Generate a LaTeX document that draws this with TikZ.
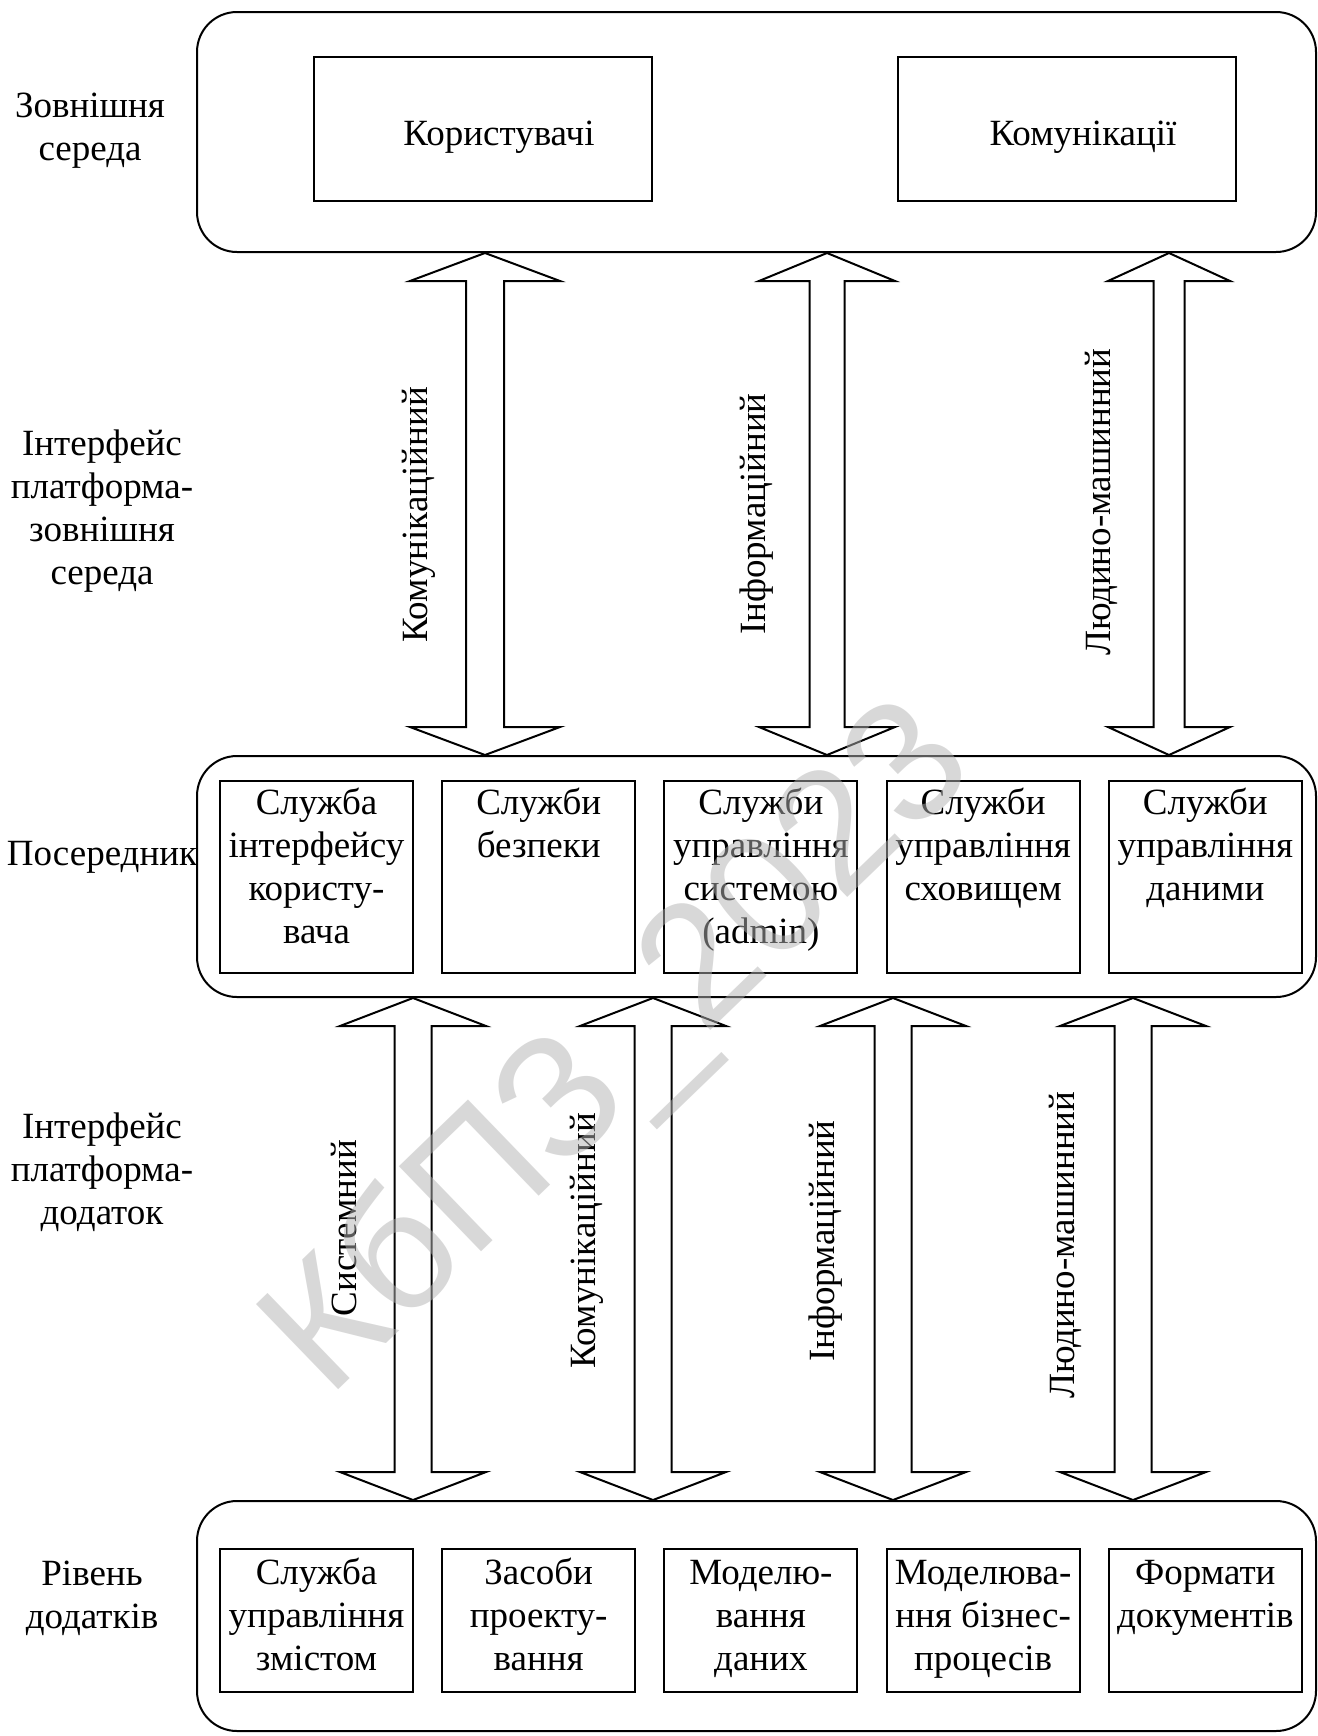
\documentclass[tikz,border=0pt]{standalone}
\usepackage{fontspec}
\setmainfont{Liberation Serif}
\newfontfamily\wmfont{Liberation Sans}
\usetikzlibrary{calc}
\tikzset{
  container/.style={draw, line width=1pt, rounded corners=20pt, inner sep=0pt, minimum width=559.5pt},
  cell/.style={draw, line width=1pt, inner sep=0pt, minimum width=96.5pt},
  topcell/.style={draw, line width=1pt, inner sep=0pt, minimum width=169pt, minimum height=72pt},
  txt/.style={font=\fontsize{18.5pt}{21.5pt}\selectfont, align=center, inner sep=0pt, anchor=base},
  vlabel/.style={font=\fontsize{18.5pt}{21.5pt}\selectfont, rotate=90, inner sep=0pt, anchor=base},
  barrow/.style={draw, line width=1pt, fill=white, line join=miter},
  wm/.style={font=\wmfont\fontsize{86pt}{86pt}\selectfont, rotate=44, text=black!30, text opacity=0.5, inner sep=0pt}
}
\newcommand\blockarr[6]{%
  \draw[barrow] (#2.south -| #1) -- ++(#4,#6) -- ++({-(#4-#5)},0)
    -- ($(#3.north -| #1)+(#5,-#6)$) -- ++({#4-#5},0) -- (#3.north -| #1)
    -- ++({-#4},{-#6}) -- ++({#4-#5},0)
    -- ($(#2.south -| #1)+(-#5,#6)$) -- ++({-(#4-#5)},0) -- cycle;}
\begin{document}
\begin{tikzpicture}[x=0.5pt,y=-0.5pt]
\useasboundingbox (0,0) rectangle (1318,1736);

% containers
\node[container, minimum height=120pt] (env) at (756.5,132) {};
\node[container, minimum height=120.5pt] (mid) at (756.5,876.5) {};
\node[container, minimum height=115pt] (app) at (756.5,1616) {};

% left labels (anchor = baseline of last line)
\node[txt] (l1) at (90,160) {Зовнішня\\середа};
\node[txt] (l2) at (102,584) {Інтерфейс\\платформа-\\зовнішня\\середа};
\node[txt] (l3) at (102,865) {Посередник};
\node[txt] (l4) at (102,1224) {Інтерфейс\\платформа-\\додаток};
\node[txt] (l5) at (92,1628) {Рівень\\додатків};

% top cells
\node[topcell] (users) at (483,129) {};
\node[topcell] (comms) at (1067,129) {};
\node[txt] (usersT) at (499,145) {Користувачі};
\node[txt] (commsT) at (1083,145) {Комунікації};

% middle and bottom cells
\foreach \i/\x in {1/316.5,2/538.7,3/760.9,4/983.1,5/1205.3}{
  \node[cell, minimum height=95.75pt] (m\i) at (\x,876.75) {};
  \node[cell, minimum height=71.5pt] (a\i) at (\x,1620.5) {};
}
\node[txt] (m1T) at (316.5,943) {Служба\\інтерфейсу\\користу-\\вача};
\node[txt] (m2T) at (538.7,857) {Служби\\безпеки};
\node[txt] (m3T) at (760.9,943) {Служби\\управління\\системою\\(admin)};
\node[txt] (m4T) at (983.1,900) {Служби\\управління\\сховищем};
\node[txt] (m5T) at (1205.3,900) {Служби\\управління\\даними};

\node[txt] (a1T) at (316.5,1670) {Служба\\управління\\змістом};
\node[txt] (a2T) at (538.7,1670) {Засоби\\проекту-\\вання};
\node[txt] (a3T) at (760.9,1670) {Моделю-\\вання\\даних};
\node[txt] (a4T) at (983.1,1670) {Моделюва-\\ння бізнес-\\процесів};
\node[txt] (a5T) at (1205.3,1627) {Формати\\документів};

% arrow axes
\coordinate (x1) at (485,0);
\coordinate (x2) at (827,0);
\coordinate (x3) at (1169,0);
\coordinate (y1) at (413,0);
\coordinate (y2) at (653,0);
\coordinate (y3) at (893,0);
\coordinate (y4) at (1133,0);

\blockarr{x1}{env}{mid}{75}{19}{28}
\blockarr{x2}{env}{mid}{68}{17.5}{28}
\blockarr{x3}{env}{mid}{61}{15.5}{28}
\blockarr{y1}{mid}{app}{73}{18.5}{28}
\blockarr{y2}{mid}{app}{73}{18.5}{28}
\blockarr{y3}{mid}{app}{73}{18.5}{28}
\blockarr{y4}{mid}{app}{73}{18.5}{28}

% arrow labels
\node[vlabel] (v1) at (427,515) {Комунікаційний};
\node[vlabel] (v2) at (765,514) {Інформаційний};
\node[vlabel] (v3) at (1110,502) {Людино-машинний};
\node[vlabel] (w1) at (356,1228) {Системний};
\node[vlabel] (w2) at (595,1241) {Комунікаційний};
\node[vlabel] (w3) at (834,1241) {Інформаційний};
\node[vlabel] (w4) at (1074,1245) {Людино-машинний};

% watermark
\node[wm] (wmark) at (622,1052) {КбПЗ\_2023};
\end{tikzpicture}
\end{document}
